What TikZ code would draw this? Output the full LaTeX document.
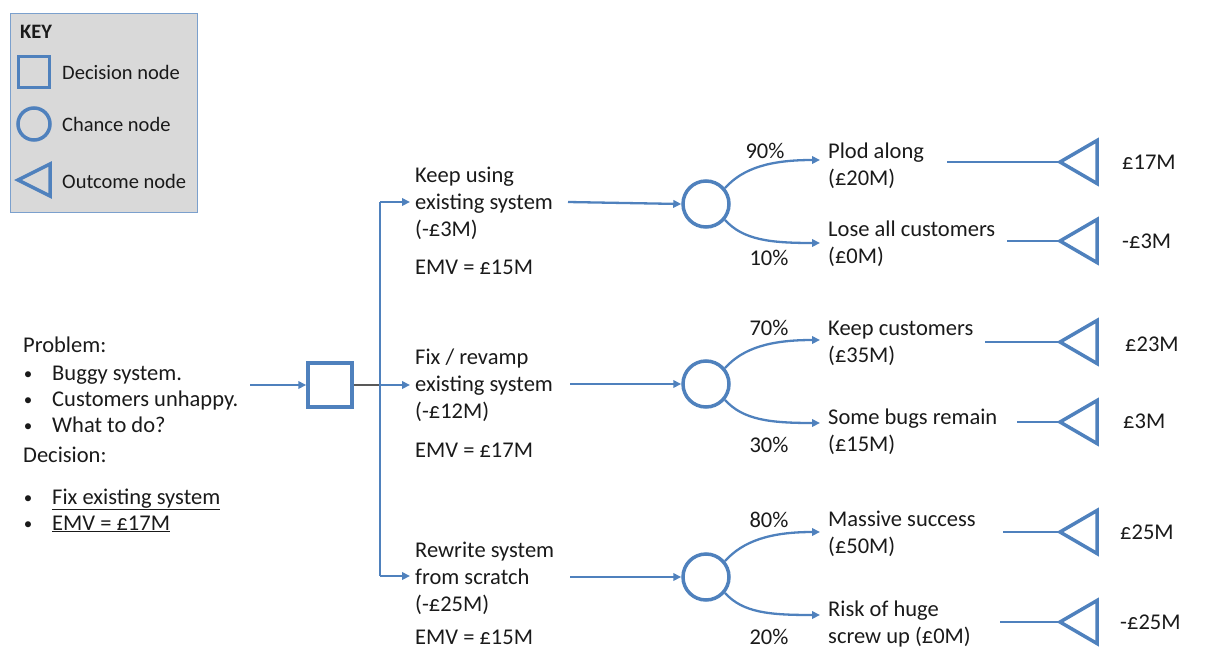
\documentclass[tikz,border=0pt]{standalone}
\usepackage{fontspec}
\setmainfont{Carlito}
\usetikzlibrary{arrows.meta}
\definecolor{nblue}{HTML}{4F81BD}
\definecolor{keyfill}{HTML}{D9D9D9}
\definecolor{txt}{HTML}{1A1A1A}
\begin{document}
\begin{tikzpicture}[x=1pt,y=-1pt,
  lbl/.style={font=\fontsize{22.5}{27}\selectfont, text=txt, inner sep=0pt, anchor=base west, align=left},
  bul/.style={font=\fontsize{17}{20}\selectfont, text=txt, inner sep=0pt, anchor=base},
  klbl/.style={font=\fontsize{20.5}{24}\selectfont, text=txt, inner sep=0pt, anchor=west},
  conn/.style={draw=nblue, line width=2.3pt, -{Triangle[length=8pt,width=7.5pt]}},
  plain/.style={draw=nblue, line width=2.3pt},
  sq/.style={draw=nblue, line width=3.5pt, minimum size=44pt, inner sep=0pt},
  chance/.style={circle, draw=nblue, line width=3.5pt, minimum size=46pt, inner sep=0pt},
  tri/.style={draw=nblue, line width=3.5pt, line join=miter},
]
\useasboundingbox (0,0) rectangle (1213,656);
% Key
\node[draw=nblue!75, line width=1pt, fill=keyfill, minimum width=187pt, minimum height=199pt, anchor=north west, inner sep=0pt] (key) at (10,13) {};
\node[font=\fontsize{20.5}{24}\selectfont\bfseries, text=txt, inner sep=0pt, anchor=west] (keyt) at (20,32) {KEY};
\node[sq, minimum size=31pt, line width=3.5pt] (ksq) at (34,72) {};
\node[klbl] (kd) at (62,72) {Decision node};
\node[chance, minimum size=32pt] (kc) at (34,124) {};
\node[klbl] (kch) at (62,124) {Chance node};
\draw[tri] (18,180) -- (50,164) -- (50,196) -- cycle;
\node[klbl] (ko) at (62,181) {Outcome node};
% Problem text
\node[lbl] (prob) at (23,352) {Problem:};
\node[bul] (b1) at (28,379) {•};
\node[lbl] (p1) at (52,380) {Buggy system.};
\node[bul] (b2) at (28,405) {•};
\node[lbl] (p2) at (52,406) {Customers unhappy.};
\node[bul] (b3) at (28,431) {•};
\node[lbl] (p3) at (52,432) {What to do?};
\node[lbl] (dec) at (23,462) {Decision:};
\node[bul] (b4) at (28,503) {•};
\node[lbl] (d1) at (52,504) {\underline{Fix existing system}};
\node[bul] (b5) at (28,529) {•};
\node[lbl] (d2) at (52,530) {\underline{EMV = £17M}};
% Decision node
\coordinate (in) at (250,385);
\node[sq] (D) at (330,385) {};
\draw[conn] (in) -- (D.west);
\coordinate (vt) at (380,202);
\coordinate (vm) at (380,385);
\coordinate (vb) at (380,576);
\draw[draw=black!65, line width=2.5pt] (D.east) -- (vm);
\draw[plain] (vt) -- (vb);
% Branch texts (anchor = baseline of last line)
\node[lbl] (k1) at (415,236) {Keep using\\existing system\\(-£3M)};
\node[lbl] (e1) at (415,274) {EMV = £15M};
\node[lbl] (k2) at (415,418) {Fix / revamp\\existing system\\(-£12M)};
\node[lbl] (e2) at (415,457) {EMV = £17M};
\node[lbl] (k3) at (415,611) {Rewrite system\\from scratch\\(-£25M)};
\node[lbl] (e3) at (415,644) {EMV = £15M};
\coordinate (a1) at (410,202);
\coordinate (a2) at (410,385);
\coordinate (a3) at (410,576);
\draw[conn] (vt) -- (a1);
\draw[conn] (vm) -- (a2);
\draw[conn] (vb) -- (a3);
% chance nodes
\node[chance] (c1) at (706,204) {};
\node[chance] (c2) at (706,384) {};
\node[chance] (c3) at (706,577) {};
\coordinate (s1) at (568,202);
\coordinate (s2) at (570,384);
\coordinate (s3) at (570,577);
\draw[conn] (s1) -- (c1.west);
\draw[conn] (s2) -- (c2.west);
\draw[conn] (s3) -- (c3.west);
% outcome texts
\node[lbl] (o1) at (828,185) {Plod along\\(£20M)};
\node[lbl] (o2) at (828,263) {Lose all customers\\(£0M)};
\node[lbl] (o3) at (828,362) {Keep customers\\(£35M)};
\node[lbl] (o4) at (828,451) {Some bugs remain\\(£15M)};
\node[lbl] (o5) at (828,553) {Massive success\\(£50M)};
\node[lbl] (o6) at (828,643) {Risk of huge\\screw up (£0M)};
% branch endpoints
\coordinate (t1) at (820,160);
\coordinate (t2) at (820,243);
\coordinate (t3) at (820,340);
\coordinate (t4) at (820,423);
\coordinate (t5) at (820,532);
\coordinate (t6) at (820,615);
\draw[conn] (c1.40) .. controls +(18,-20) and +(-50,0) .. (t1);
\draw[conn] (c1.-40) .. controls +(18,20) and +(-50,0) .. (t2);
\draw[conn] (c2.40) .. controls +(18,-20) and +(-50,0) .. (t3);
\draw[conn] (c2.-40) .. controls +(18,20) and +(-50,0) .. (t4);
\draw[conn] (c3.40) .. controls +(18,-20) and +(-50,0) .. (t5);
\draw[conn] (c3.-40) .. controls +(18,20) and +(-50,0) .. (t6);
% probabilities
\node[lbl, anchor=base] (p90) at (765,158) {90\%};
\node[lbl, anchor=base] (p10) at (769,265) {10\%};
\node[lbl, anchor=base] (p70) at (769,335) {70\%};
\node[lbl, anchor=base] (p30) at (769,452) {30\%};
\node[lbl, anchor=base] (p80) at (769,527) {80\%};
\node[lbl, anchor=base] (p20) at (769,644) {20\%};
% outcome triangles
\foreach \n/\y/\xs in {1/162/947, 2/241/1007, 3/342/985, 4/422/1017, 5/532/1003, 6/622/1000}{
  \coordinate (tip\n) at (1060,\y);
  \coordinate (ls\n) at (\xs,\y);
  \draw[tri] (tip\n) -- (1097,\y-21.5) -- (1097,\y+21.5) -- cycle;
  \draw[plain] (ls\n) -- (tip\n);
}
\node[lbl, anchor=west] (v1) at (1122,162) {£17M};
\node[lbl, anchor=west] (v2) at (1122,241) {-£3M};
\node[lbl, anchor=west] (v3) at (1125,344) {£23M};
\node[lbl, anchor=west] (v4) at (1123,421) {£3M};
\node[lbl, anchor=west] (v5) at (1120,532) {£25M};
\node[lbl, anchor=west] (v6) at (1120,622) {-£25M};
\end{tikzpicture}
\end{document}
